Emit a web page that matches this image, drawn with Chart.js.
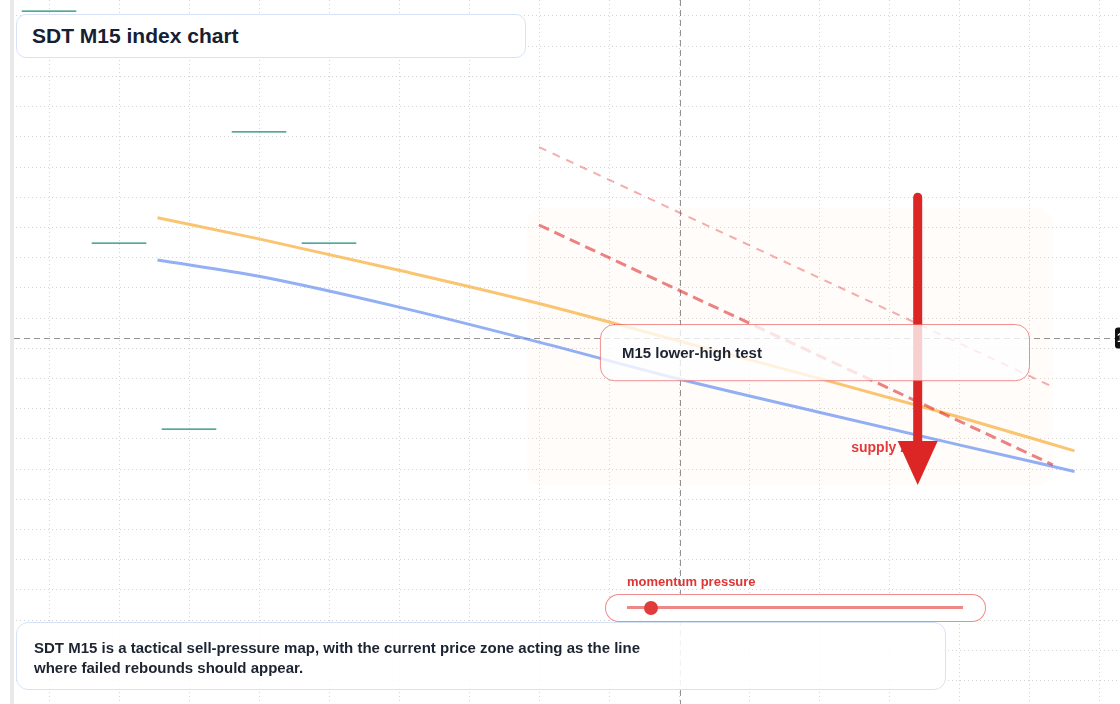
<!DOCTYPE html>
<html>
<head>
<meta charset="utf-8">
<title>SDT M15 index chart</title>
<script src="https://cdn.jsdelivr.net/npm/chart.js@4.4.1/dist/chart.umd.min.js"></script>
<style>
  body { margin: 0; background: #fff; font-family: "Liberation Sans", Arial, sans-serif; }
  #wrap { position: relative; width: 1120px; height: 704px; overflow: hidden; }
  #chart { position: absolute; left: 0; top: 0; }
  .title {
    position: absolute; left: 16px; top: 14px; width: 510px; height: 44px; box-sizing: border-box;
    border: 1px solid #d6e3f7; border-radius: 10px; background: #fff;
    padding-left: 15px; line-height: 42px; font-weight: 700; font-size: 21px; color: #162033;
  }
  .note {
    position: absolute; left: 16px; top: 622px; width: 930px; height: 68px; box-sizing: border-box;
    border: 1px solid #d6e3f7; border-radius: 12px; background: rgba(255,255,255,0.88);
    padding: 15px 17px; font-weight: 700; font-size: 15px; line-height: 20px; color: #1d2431;
  }
  .mom-label {
    position: absolute; left: 627px; top: 574px; font-weight: 700; font-size: 13px; line-height: 16px; color: #e03434;
  }
  .mom-pill {
    position: absolute; left: 605px; top: 594px; width: 381px; height: 28px; box-sizing: border-box;
    border: 1px solid rgba(232,90,90,0.7); border-radius: 14px; background: #fff;
  }
  .mom-track { position: absolute; left: 627px; top: 606px; width: 336px; height: 3px; background: rgba(232,96,96,0.75); }
  .mom-knob { position: absolute; top: 601px; width: 14px; height: 14px; border-radius: 50%; background: #e03c3c; }
</style>
</head>
<body>
<div id="wrap">
  <canvas id="chart"></canvas>
  <div class="title">SDT M15 index chart</div>
  <div class="mom-label">momentum pressure</div>
  <div class="mom-pill"></div>
  <div class="mom-track"></div>
  <div class="mom-knob" id="knob"></div>
  <div class="note">SDT M15 is a tactical sell-pressure map, with the current price zone acting as the line<br>where failed rebounds should appear.</div>
</div>
<script>
// bar positions (x) and index levels (y)
const xBars = [1.55, 3, 5, 7, 9, 11, 13, 14.65];
const priceLine = [166.6, 163.1, 157.9, 152.4, 146.2, 140.0, 133.6, 128.0];
const baseLine = [159.6, 156.9, 151.8, 146.0, 139.9, 134.4, 129.0, 124.6];

const trendX = [7.0, 14.34];
const lowerTrendY = [165.4, 125.7];
const upperTrendY = [178.3, 138.6];

const zoneX = [6.83, 14.34];
const zoneY = [168.2, 122.2];

const arrowX = 12.41;
const arrowY = [170.0, 122.35];

const crossX = 9.015;
const crossY = 146.7;

const markX = [0, 1, 2, 3, 4];
const markY = [200.8, 162.4, 131.6, 180.8, 162.4];

const testBoxX = [7.87, 14.0];
const testBoxY = [149.0, 139.7];
const supplyLabelAt = [11.46, 128.5];

const momentum = 0.07;

document.getElementById('knob').style.left = (627 + momentum * 336 - 7) + 'px';

const pts = (xs, ys) => xs.map((v, i) => ({ x: v, y: ys[i] }));
const font = (size) => '700 ' + size + 'px "Liberation Sans", Arial, sans-serif';

const markSets = markX.map((v, i) => ({
  data: [{ x: v - 0.39, y: markY[i] }, { x: v + 0.39, y: markY[i] }],
  borderColor: 'rgb(24,140,116)',
  borderWidth: 1.2,
  pointRadius: 0
}));

const overlay = {
  id: 'overlay',
  beforeDatasetsDraw(chart) {
    const { ctx, chartArea, scales: { x, y } } = chart;
    ctx.save();
    ctx.fillStyle = '#e9e9e9';
    ctx.fillRect(chartArea.left - 2, 0, 4, chart.height);

    // supply zone shading
    const zx0 = x.getPixelForValue(zoneX[0]), zx1 = x.getPixelForValue(zoneX[1]);
    const zy0 = y.getPixelForValue(zoneY[0]), zy1 = y.getPixelForValue(zoneY[1]);
    ctx.fillStyle = 'rgba(251,146,60,0.022)';
    ctx.beginPath();
    ctx.roundRect(zx0, zy0, zx1 - zx0, zy1 - zy0, 16);
    ctx.fill();

    // crosshair
    const cx = x.getPixelForValue(crossX), cy = y.getPixelForValue(crossY);
    ctx.strokeStyle = 'rgba(0,0,0,0.42)';
    ctx.lineWidth = 1;
    ctx.setLineDash([6, 4]);
    ctx.beginPath();
    ctx.moveTo(Math.round(cx) + 0.5, 0);
    ctx.lineTo(Math.round(cx) + 0.5, chart.height);
    ctx.moveTo(chartArea.left + 2, Math.round(cy) + 0.5);
    ctx.lineTo(1115, Math.round(cy) + 0.5);
    ctx.stroke();
    ctx.restore();
  },
  afterDatasetsDraw(chart) {
    const { ctx, scales: { x, y } } = chart;
    ctx.save();

    // supply zone label (sits under the arrow head)
    ctx.font = font(14);
    ctx.fillStyle = '#e23a3a';
    ctx.textBaseline = 'middle';
    ctx.fillText('supply zone', x.getPixelForValue(supplyLabelAt[0]), y.getPixelForValue(supplyLabelAt[1]));

    // arrow
    const ax = x.getPixelForValue(arrowX);
    const ay0 = y.getPixelForValue(arrowY[0]), ay1 = y.getPixelForValue(arrowY[1]);
    const head = 44, hw = 20;
    ctx.strokeStyle = '#dc2626';
    ctx.fillStyle = '#dc2626';
    ctx.lineWidth = 9;
    ctx.lineCap = 'round';
    ctx.beginPath();
    ctx.moveTo(ax, ay0);
    ctx.lineTo(ax, ay1 - head + 4);
    ctx.stroke();
    ctx.beginPath();
    ctx.moveTo(ax - hw, ay1 - head);
    ctx.lineTo(ax + hw, ay1 - head);
    ctx.lineTo(ax, ay1);
    ctx.closePath();
    ctx.fill();

    // lower-high test callout
    const bx0 = x.getPixelForValue(testBoxX[0]), bx1 = x.getPixelForValue(testBoxX[1]);
    const by0 = y.getPixelForValue(testBoxY[0]), by1 = y.getPixelForValue(testBoxY[1]);
    ctx.fillStyle = 'rgba(255,255,255,0.78)';
    ctx.strokeStyle = 'rgba(228,70,70,0.6)';
    ctx.lineWidth = 1;
    ctx.beginPath();
    ctx.roundRect(bx0 + 0.5, by0 + 0.5, bx1 - bx0, by1 - by0, 14);
    ctx.fill();
    ctx.stroke();
    ctx.fillStyle = '#1d2330';
    ctx.font = font(15);
    ctx.textBaseline = 'middle';
    ctx.fillText('M15 lower-high test', bx0 + 22, (by0 + by1) / 2 + 1.5);

    // price tag at right edge
    const cy = y.getPixelForValue(crossY);
    ctx.fillStyle = '#111';
    ctx.beginPath();
    ctx.roundRect(1115, cy - 10.5, 60, 21, 3);
    ctx.fill();
    ctx.fillStyle = '#fff';
    ctx.font = font(12);
    ctx.fillText(crossY.toFixed(2), 1117, cy + 1);
    ctx.restore();
  }
};

const ctx = document.getElementById('chart').getContext('2d');
const chart = new Chart(ctx, {
  type: 'line',
  data: {
    datasets: [
      {
        data: pts(trendX, lowerTrendY),
        borderColor: 'rgba(222,46,46,0.6)',
        borderWidth: 3,
        borderDash: [11, 6],
        pointRadius: 0
      },
      {
        data: pts(trendX, upperTrendY),
        borderColor: 'rgba(222,46,46,0.38)',
        borderWidth: 2,
        borderDash: [8, 7],
        pointRadius: 0
      },
      {
        data: pts(xBars, priceLine),
        borderColor: 'rgba(248,178,66,0.75)',
        borderWidth: 3,
        pointRadius: 0,
        cubicInterpolationMode: 'monotone'
      },
      {
        data: pts(xBars, baseLine),
        borderColor: 'rgba(96,138,240,0.68)',
        borderWidth: 3,
        pointRadius: 0,
        cubicInterpolationMode: 'monotone'
      },
      ...markSets
    ]
  },
  options: {
    responsive: true,
    maintainAspectRatio: false,
    animation: false,
    layout: { padding: { left: 12, right: 0, top: 0, bottom: 0 } },
    plugins: { legend: { display: false }, tooltip: { enabled: false } },
    scales: {
      x: {
        type: 'linear',
        min: -0.5286,
        max: 15.3,
        afterBuildTicks: (s) => { s.ticks = []; for (let v = 0; v <= 15; v++) s.ticks.push({ value: v }); },
        ticks: { display: false },
        grid: { color: 'rgba(0,0,0,0.17)', lineWidth: 1, drawTicks: false },
        border: { display: false, dash: [1, 3] }
      },
      y: {
        type: 'linear',
        min: 86.093,
        max: 202.649,
        afterBuildTicks: (s) => { s.ticks = []; for (let v = 90; v <= 200; v += 5) s.ticks.push({ value: v }); },
        ticks: { display: false },
        grid: { color: 'rgba(0,0,0,0.17)', lineWidth: 1, drawTicks: false },
        border: { display: false, dash: [1, 3] }
      }
    }
  },
  plugins: [overlay]
});
</script>
</body>
</html>
